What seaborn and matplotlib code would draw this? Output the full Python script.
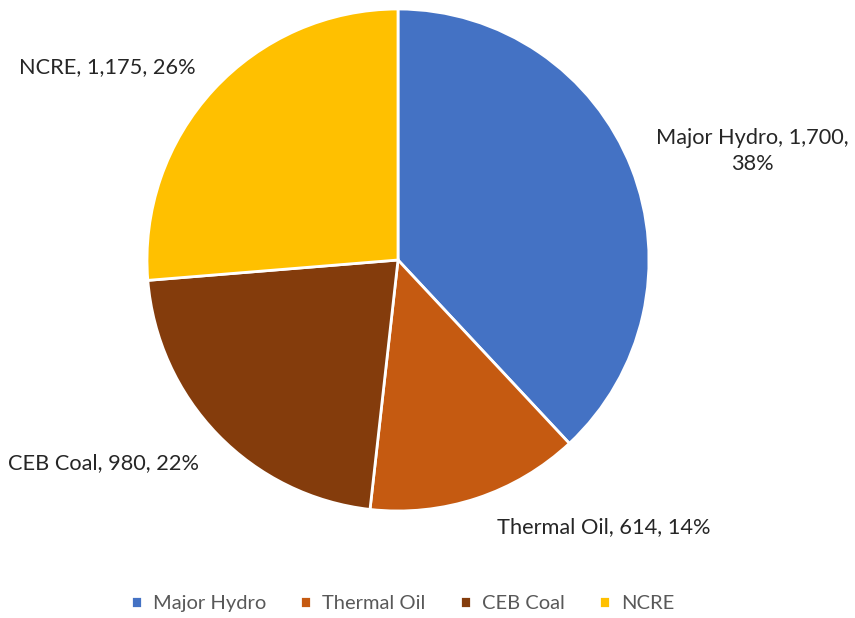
import matplotlib
matplotlib.use('Agg')
import matplotlib.pyplot as plt
import seaborn as sns

sns.set_theme(style='white')
plt.rcParams['font.family'] = ['Lato', 'DejaVu Sans']

# data
sources = ['Major Hydro', 'Thermal Oil', 'CEB Coal', 'NCRE']
capacity = [1700, 614, 980, 1175]
colors = ['#4472C4', '#C55A11', '#843C0C', '#FFC000']

# label positions (data units, pie radius = 1)
label_pos = [(1.41, 0.435), (0.82, -1.064), (-1.175, -0.809), (-1.159, 0.769)]

fig = plt.figure(figsize=(8.55, 6.18), dpi=100)
ax = fig.add_axes([0, 0, 1, 1])

wedges, _ = ax.pie(capacity, colors=colors, startangle=90, counterclock=False,
                   radius=1, wedgeprops=dict(edgecolor='white', linewidth=2))

total = sum(capacity)
for name, val, (x, y) in zip(sources, capacity, label_pos):
    pct = round(val / total * 100)
    txt = f'{name}, {val:,}, {pct}%'
    if name == 'Major Hydro':
        txt = f'{name}, {val:,},\n{pct}%'
    ax.text(x, y, txt, ha='center', va='center', fontsize=15.7, color='#262626',
            linespacing=1.35)

ax.set_xlim(-398 / 251, (855 - 398) / 251)
ax.set_ylim(-(618 - 260) / 251, 260 / 251)
ax.set_aspect('equal')
ax.axis('off')

leg = fig.legend(wedges, sources, loc='center', bbox_to_anchor=(0.471, 0.023), ncol=4,
                 frameon=False, fontsize=14.5, handlelength=0.55, handleheight=0.55,
                 handletextpad=0.55, columnspacing=1.7)
for t in leg.get_texts():
    t.set_color('#595959')

fig.savefig('out.png', dpi=100)
